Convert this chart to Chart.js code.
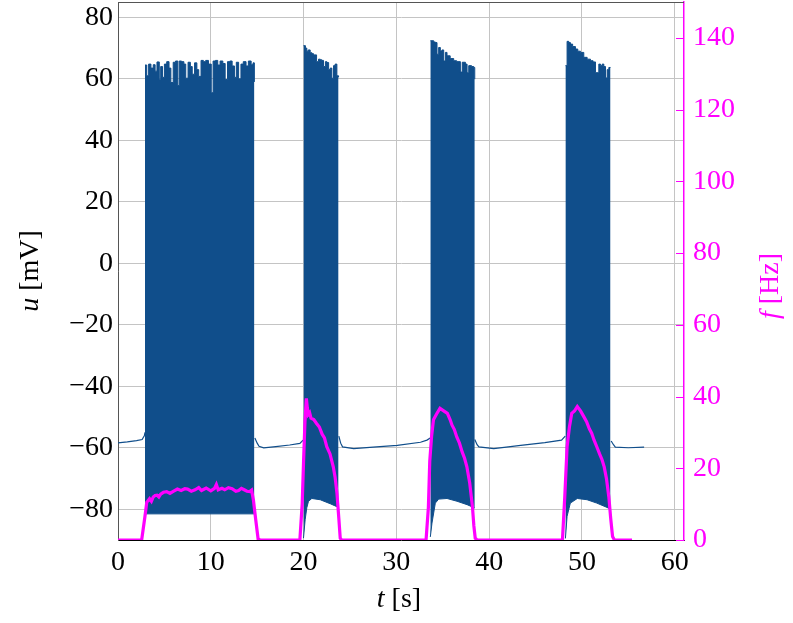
<!DOCTYPE html>
<html lang="en">
<head>
<meta charset="UTF-8">
<title>Membrane potential and firing rate</title>
<script src="https://cdn.jsdelivr.net/npm/chart.js@4.4.1/dist/chart.umd.min.js"></script>
<style>
  body { margin: 0; background: #fff; }
</style>
</head>
<body>
<canvas id="myChart" width="793" height="623"></canvas>
<script>
// membrane potential between bursts (null = burst, drawn by the envelopes)
const tBase = [0, 1.0, 2.0, 2.6, 2.85, 2.91, 8,
  14.75, 15.0, 15.2, 15.7, 17.0, 18.5, 19.6, 19.95, 22,
  23.8, 24.0, 24.2, 25.4, 27.5, 30.1, 32.6, 33.3, 33.65, 36,
  38.45, 38.7, 38.9, 40.5, 43.4, 46.0, 47.8, 48.2, 50,
  53.15, 53.4, 53.6, 55.0, 56.7];
const uBase = [-58.4, -58.1, -57.7, -57.3, -56.0, -55.0, null,
  -56.8, -58.5, -59.5, -60.0, -59.6, -59.1, -58.6, -57.5, null,
  -56.2, -58.5, -59.7, -60.3, -59.8, -59.2, -58.2, -57.5, -56.8, null,
  -57.3, -59.0, -59.7, -60.3, -59.2, -58.3, -57.5, -56.2, null,
  -57.8, -59.0, -59.8, -60.0, -59.8];

// burst 1: spike peaks (top) and troughs (bottom)
const tTop1 = [2.91, 3.1, 3.3, 3.55, 3.8, 4.0, 4.2, 4.45, 4.6, 4.8, 5.0, 5.25, 5.5, 5.7, 5.95,
  6.2, 6.45, 6.6, 6.85, 7.1, 7.3, 7.55, 7.8, 8.0, 8.25, 8.5, 8.7, 8.95, 9.2, 9.45, 9.75,
  10.05, 10.25, 10.5, 10.75, 11.0, 11.3, 11.55, 11.8, 12.05, 12.3, 12.55, 12.75, 13.0,
  13.25, 13.5, 13.8, 14.05, 14.35, 14.55, 14.7];
const uTop1 = [64.5, 61.0, 64.8, 63.5, 64.6, 62.5, 65.5, 59.8, 64.0, 60.5, 64.8, 65.6, 63.5, 58.8, 65.4,
  65.8, 57.8, 65.8, 65.6, 64.8, 60.2, 65.4, 64.0, 61.5, 65.2, 63.0, 60.8, 66.0, 65.6, 66.0, 64.8,
  55.5, 65.8, 66.0, 64.5, 65.8, 65.0, 59.8, 65.6, 65.8, 64.2, 60.5, 65.4, 60.0,
  64.8, 65.6, 64.2, 65.8, 64.6, 65.2, 59.0];
const tBot1 = [2.91, 14.7];
const uBot1 = [-81.5, -81.5];

// burst 2
const tTop2 = [19.99, 20.2, 20.35, 20.5, 20.71, 20.9, 21.07, 21.4, 21.61, 21.8, 21.97, 22.15,
  22.35, 22.51, 22.7, 22.87, 23.05, 23.23, 23.4, 23.59, 23.77];
const uTop2 = [70.8, 70.0, 69.0, 69.4, 68.5, 68.2, 67.8, 65.6, 66.4, 66.2, 66.0, 64.0,
  65.6, 65.3, 63.0, 63.5, 60.2, 64.3, 64.8, 61.0, 60.5];
const tBot2 = [19.99, 20.17, 20.35, 20.53, 20.89, 21.79, 22.87, 23.77];
const uBot2 = [-89.4, -83.4, -79.5, -77.4, -76.5, -76.9, -78.2, -79.4];

// burst 3
const tTop3 = [33.66, 34.02, 34.2, 34.38, 34.56, 34.74, 34.92, 35.1, 35.28, 35.46, 35.8, 36.18,
  36.5, 36.9, 37.1, 37.44, 37.62, 37.8, 38.1, 38.34, 38.45];
const uTop3 = [72.4, 72.0, 71.8, 68.0, 70.2, 69.1, 69.4, 65.8, 68.6, 67.5, 66.6, 65.9,
  65.6, 62.2, 65.4, 64.8, 62.0, 64.3, 64.0, 63.7, 59.9];
const tBot3 = [33.66, 33.84, 34.2, 34.56, 35.46, 36.54, 37.62, 38.45];
const uBot3 = [-89.0, -84.5, -78.0, -76.7, -76.5, -77.4, -78.5, -79.6];

// burst 4
const tTop4 = [48.22, 48.4, 48.58, 48.76, 49.0, 49.3, 49.55, 49.84, 50.2, 50.56, 50.92, 51.2,
  51.46, 51.82, 52.0, 52.18, 52.36, 52.54, 52.72, 52.9, 53.08];
const uTop4 = [64.3, 72.2, 71.8, 71.3, 70.5, 69.7, 69.0, 68.6, 67.0, 66.4, 65.9, 65.5,
  62.0, 64.8, 64.3, 64.8, 64.0, 60.3, 63.0, 63.7, 63.7];
const tBot4 = [48.22, 48.4, 48.75, 49.5, 50.55, 51.6, 52.7, 53.08];
const uBot4 = [-89.5, -82.3, -78.0, -76.5, -76.9, -78.0, -79.4, -80.0];

// instantaneous firing rate
const tRate = [0, 2.55, 2.9, 3.1, 3.4, 3.6, 3.8, 4.0, 4.2, 4.4, 4.6, 4.9, 5.25, 5.6, 6.0, 6.4,
  6.8, 7.2, 7.5, 7.9, 8.3, 8.7, 9.0, 9.5, 10.0, 10.4, 10.6, 10.8, 11.2, 11.5, 11.9, 12.3,
  12.7, 13.0, 13.3, 13.6, 13.9, 14.2, 14.4, 14.6, 14.85, 15.1, 15.3,
  19.6, 19.85, 20.0, 20.15, 20.3, 20.4, 20.5, 20.65, 20.8, 21.1, 21.4, 21.7, 22.0, 22.25,
  22.5, 22.85, 23.2, 23.4, 23.6, 23.8, 23.95, 24.1,
  33.2, 33.45, 33.6, 33.8, 34.0, 34.35, 34.7, 35.1, 35.5, 35.8, 36.0, 36.25, 36.5, 36.8,
  37.1, 37.35, 37.6, 37.9, 38.2, 38.35, 38.5, 38.7,
  47.9, 48.15, 48.4, 48.65, 48.9, 49.2, 49.5, 49.85, 50.2, 50.5, 50.8, 51.05, 51.3, 51.6,
  51.9, 52.15, 52.4, 52.65, 52.9, 53.1, 53.3, 53.5, 55.4];
const fRate = [0, 0, 6.5, 10.5, 11.5, 10.8, 12.0, 12.4, 12.5, 12.0, 12.8, 13.3, 13.5, 13.0, 13.6, 14.2,
  13.8, 14.3, 14.2, 13.6, 14.0, 14.6, 13.8, 14.5, 13.7, 14.4, 15.5, 14.0, 14.4, 14.0, 14.6, 14.3,
  13.6, 13.8, 14.4, 14.0, 13.6, 13.5, 13.9, 11.0, 5.5, 0.3, 0,
  0, 10.0, 22.0, 33.0, 39.5, 37.0, 35.0, 35.5, 34.0, 33.6, 32.5, 31.5, 29.5, 28.5,
  26.0, 24.0, 20.4, 17.5, 13.0, 6.0, 0.5, 0,
  0, 9.0, 22.0, 29.0, 33.5, 35.2, 36.7, 36.0, 35.3, 33.5, 32.0, 30.8, 28.8, 27.0,
  24.5, 22.8, 20.4, 16.0, 9.3, 4.0, 0.5, 0,
  0, 12.0, 26.0, 31.5, 35.3, 36.0, 37.2, 36.0, 34.4, 33.0, 31.0, 29.8, 27.9, 26.0,
  24.0, 22.5, 20.4, 17.0, 12.0, 6.0, 1.0, 0, 0];

const xTicks = [0, 10, 20, 30, 40, 50, 60];
const uTicks = [-80, -60, -40, -20, 0, 20, 40, 60, 80];
const fTicks = [0, 20, 40, 60, 80, 100, 120, 140];

const blue = '#104e8b';
const magenta = '#ff00ff';
const gridColor = '#c4c4c4';
const fontFamily = '"Liberation Serif", "DejaVu Serif", serif';
const fontSize = 28;

function pts(ts, vs) {
  return ts.map((t, i) => ({x: t, y: vs[i]}));
}
function fmt(v) {
  return v < 0 ? '\u2212' + Math.abs(v) : String(v);
}
// keep the plot box where the reference has it: no extra room for tick labels
function noPad(s) {
  s.paddingTop = 0;
  s.paddingBottom = 0;
  s.paddingLeft = 0;
  s.paddingRight = 0;
}

const bursts = [[tTop1, uTop1, tBot1, uBot1], [tTop2, uTop2, tBot2, uBot2],
                [tTop3, uTop3, tBot3, uBot3], [tTop4, uTop4, tBot4, uBot4]];

const datasets = [{
  label: 'f',
  data: pts(tRate, fRate),
  yAxisID: 'y2',
  borderColor: magenta,
  borderWidth: 3.2,
  pointRadius: 0,
  fill: false
}];
bursts.forEach((b, k) => {
  datasets.push({
    label: 'u peaks ' + (k + 1),
    data: pts(b[0], b[1]),
    yAxisID: 'y',
    borderColor: blue,
    backgroundColor: blue,
    borderWidth: 1,
    stepped: true,
    pointRadius: 0,
    fill: '+1'
  });
  datasets.push({
    label: 'u troughs ' + (k + 1),
    data: pts(b[2], b[3]),
    yAxisID: 'y',
    borderColor: blue,
    borderWidth: 1,
    pointRadius: 0,
    fill: false
  });
});
datasets.push({
  label: 'u',
  data: pts(tBase, uBase),
  yAxisID: 'y',
  borderColor: blue,
  borderWidth: 1.2,
  pointRadius: 0,
  spanGaps: false,
  fill: false
});

// axis titles with italic symbol + upright unit, frame, inner ticks on right axis
const decorations = {
  id: 'decorations',
  afterDraw(chart) {
    const ctx = chart.ctx;
    const a = chart.chartArea;
    ctx.save();
    ctx.strokeStyle = '#555';
    ctx.lineWidth = 1;
    ctx.beginPath();
    ctx.moveTo(a.left, a.top + 0.5);
    ctx.lineTo(a.right, a.top + 0.5);
    ctx.stroke();
    const y2 = chart.scales.y2;
    ctx.strokeStyle = magenta;
    fTicks.forEach(v => {
      const py = Math.round(y2.getPixelForValue(v)) + 0.5;
      ctx.beginPath();
      ctx.moveTo(a.right - 8, py);
      ctx.lineTo(a.right, py);
      ctx.stroke();
    });
    function label(sym, unit, x, y, rot, color) {
      ctx.save();
      ctx.translate(x, y);
      ctx.rotate(rot);
      ctx.fillStyle = color;
      ctx.textBaseline = 'middle';
      ctx.textAlign = 'left';
      const fi = 'italic ' + fontSize + 'px ' + fontFamily;
      const fu = fontSize + 'px ' + fontFamily;
      ctx.font = fi;
      const w1 = ctx.measureText(sym).width;
      ctx.font = fu;
      const w2 = ctx.measureText(unit).width;
      const x0 = -(w1 + w2) / 2;
      ctx.font = fi;
      ctx.fillText(sym, x0, 0);
      ctx.font = fu;
      ctx.fillText(unit, x0 + w1, 0);
      ctx.restore();
    }
    label('u', ' [mV]', 31, 271, -Math.PI / 2, '#000');
    label('t', ' [s]', (a.left + a.right) / 2 - 2, 600, 0, '#000');
    label('f', ' [Hz]', 771, 286, -Math.PI / 2, magenta);
    ctx.restore();
  }
};

const ctx = document.getElementById('myChart');
const myChart = new Chart(ctx, {
  type: 'line',
  data: { datasets: datasets },
  plugins: [decorations],
  options: {
    responsive: false,
    animation: false,
    layout: { padding: { top: 2, left: 0, right: 0, bottom: 0 } },
    plugins: {
      legend: { display: false },
      tooltip: { enabled: false }
    },
    scales: {
      x: {
        type: 'linear',
        min: 0,
        max: 61,
        afterFit: s => { s.height = 83; noPad(s); },
        afterBuildTicks: s => { s.ticks = xTicks.map(v => ({value: v})); },
        ticks: {
          color: '#000',
          padding: 6,
          maxRotation: 0,
          font: { family: fontFamily, size: fontSize },
          callback: v => fmt(v)
        },
        grid: { color: gridColor, drawTicks: false },
        border: { color: '#000', width: 1 }
      },
      y: {
        type: 'linear',
        position: 'left',
        min: -90,
        max: 85,
        afterFit: s => { s.width = 118; noPad(s); },
        afterBuildTicks: s => { s.ticks = uTicks.map(v => ({value: v})); },
        ticks: {
          color: '#000',
          padding: 5,
          font: { family: fontFamily, size: fontSize },
          callback: v => fmt(v)
        },
        grid: { color: gridColor, drawTicks: false },
        border: { color: '#555', width: 1 }
      },
      y2: {
        type: 'linear',
        position: 'right',
        min: 0,
        max: 150,
        afterFit: s => { s.width = 109; noPad(s); },
        afterBuildTicks: s => { s.ticks = fTicks.map(v => ({value: v})); },
        ticks: {
          color: magenta,
          padding: 9,
          font: { family: fontFamily, size: fontSize },
          callback: v => fmt(v)
        },
        grid: { drawOnChartArea: false, drawTicks: false },
        border: { color: magenta, width: 1.5 }
      }
    }
  }
});
</script>
</body>
</html>
